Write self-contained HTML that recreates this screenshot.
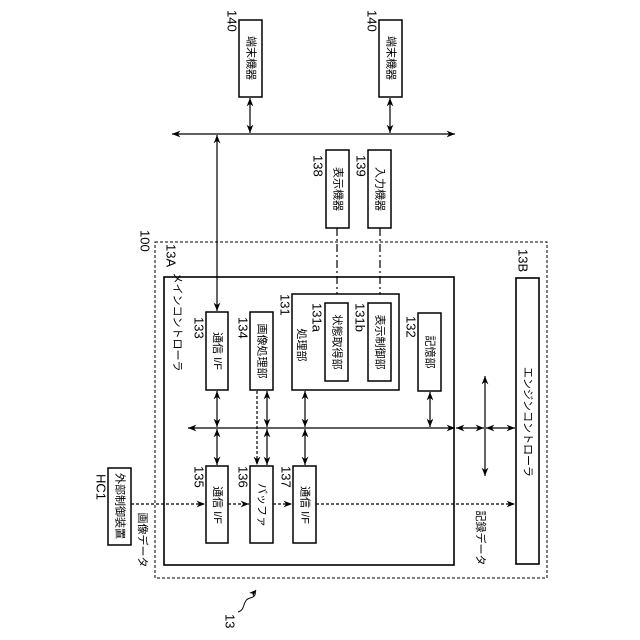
<!DOCTYPE html>
<html><head><meta charset="utf-8"><style>
html,body{margin:0;padding:0;background:#fff}
svg{display:block}
text{font-family:"Liberation Sans","Noto Sans CJK JP",sans-serif;fill:#000}
</style></head><body>
<svg width="640" height="640" viewBox="0 0 640 640" xmlns="http://www.w3.org/2000/svg">
<defs>
<marker id="a" viewBox="0 0 10 10" refX="10" refY="5" markerWidth="7" markerHeight="7" orient="auto-start-reverse"><path d="M0,1 L10,5 L0,9 L3,5 z" fill="#000"/></marker>
</defs>
<g fill="none" stroke="#000" stroke-width="1.2">
<rect x="155" y="242" width="392" height="336" stroke-dasharray="3,2" stroke-width="1"/>
<rect x="164" y="277" width="290" height="288" stroke-width="1.6"/>
<rect x="516" y="278" width="23" height="286" stroke-width="1.6"/>
<rect x="206" y="312" width="22" height="78" stroke-width="1.5"/>
<rect x="250" y="312" width="23" height="78" stroke-width="1.5"/>
<rect x="292" y="294" width="107" height="96" stroke-width="1.5"/>
<rect x="325" y="303" width="23" height="78" stroke-width="1.5"/>
<rect x="368" y="303" width="23" height="78" stroke-width="1.5"/>
<rect x="418" y="313" width="23" height="78" stroke-width="1.5"/>
<rect x="206" y="466" width="22" height="77" stroke-width="1.5"/>
<rect x="250" y="466" width="23" height="77" stroke-width="1.5"/>
<rect x="293" y="466" width="23" height="77" stroke-width="1.5"/>
<rect x="108" y="468" width="23" height="77" stroke-width="1.5"/>
<rect x="326" y="150" width="23" height="78" stroke-width="1.5"/>
<rect x="368" y="150" width="23" height="78" stroke-width="1.5"/>
<rect x="239" y="20" width="23" height="77" stroke-width="1.5"/>
<rect x="379" y="20" width="23" height="77" stroke-width="1.5"/>
<line x1="172" y1="134" x2="455" y2="134" marker-start="url(#a)" marker-end="url(#a)"/>
<line x1="250" y1="98" x2="250" y2="133" marker-start="url(#a)" marker-end="url(#a)"/>
<line x1="390" y1="98" x2="390" y2="133" marker-start="url(#a)" marker-end="url(#a)"/>
<line x1="217" y1="135" x2="217" y2="311" marker-start="url(#a)" marker-end="url(#a)"/>
<line x1="337" y1="228" x2="337" y2="294" stroke-dasharray="8,3,2,3"/>
<line x1="380" y1="228" x2="380" y2="294" stroke-dasharray="8,3,2,3"/>
<line x1="188" y1="428" x2="455" y2="428" marker-start="url(#a)" marker-end="url(#a)"/>
<line x1="217" y1="391" x2="217" y2="427" marker-start="url(#a)" marker-end="url(#a)"/>
<line x1="217" y1="429" x2="217" y2="465" marker-start="url(#a)" marker-end="url(#a)"/>
<line x1="267" y1="391" x2="267" y2="427" marker-start="url(#a)" marker-end="url(#a)"/>
<line x1="267" y1="429" x2="267" y2="465" marker-start="url(#a)" marker-end="url(#a)"/>
<line x1="305" y1="391" x2="305" y2="427" marker-start="url(#a)" marker-end="url(#a)"/>
<line x1="305" y1="429" x2="305" y2="465" marker-start="url(#a)" marker-end="url(#a)"/>
<line x1="430" y1="392" x2="430" y2="427" marker-start="url(#a)" marker-end="url(#a)"/>
<line x1="257" y1="391" x2="257" y2="465" stroke-dasharray="3,2" marker-end="url(#a)"/>
<line x1="456" y1="428" x2="484" y2="428" marker-start="url(#a)" marker-end="url(#a)"/>
<line x1="486" y1="428" x2="515" y2="428" marker-start="url(#a)" marker-end="url(#a)"/>
<line x1="485" y1="376" x2="485" y2="476" marker-start="url(#a)" marker-end="url(#a)"/>
<line x1="131" y1="504" x2="205" y2="504" stroke-dasharray="3,2" marker-end="url(#a)"/>
<line x1="228" y1="504" x2="249" y2="504" stroke-dasharray="3,2" marker-end="url(#a)"/>
<line x1="273" y1="504" x2="292" y2="504" stroke-dasharray="3,2" marker-end="url(#a)"/>
<line x1="316" y1="504" x2="515" y2="504" stroke-dasharray="3,2" marker-end="url(#a)"/>
<path d="M238,612 C246,610 242,600 250,598 S254,592 256,590" stroke-width="1" marker-end="url(#a)"/>
</g>
<g font-size="11" text-anchor="middle" dominant-baseline="central">
<text transform="translate(217,351) rotate(90)">通信 I/F</text>
<text transform="translate(261.5,351) rotate(90)">画像処理部</text>
<text transform="translate(336.5,342) rotate(90)">状態取得部</text>
<text transform="translate(379.5,342) rotate(90)">表示制御部</text>
<text transform="translate(429.5,352) rotate(90)">記憶部</text>
<text transform="translate(217,505) rotate(90)">通信 I/F</text>
<text transform="translate(261.5,505) rotate(90)">バッファ</text>
<text transform="translate(304.5,505) rotate(90)">通信 I/F</text>
<text transform="translate(119.5,506) rotate(90)">外部制御装置</text>
<text transform="translate(337.5,189) rotate(90)">表示機器</text>
<text transform="translate(379.5,189) rotate(90)">入力機器</text>
<text transform="translate(250.5,58) rotate(90)">端末機器</text>
<text transform="translate(390.5,58) rotate(90)">端末機器</text>
<text transform="translate(527.5,422) rotate(90)">エンジンコントローラ</text>
<text transform="translate(301,345) rotate(90)">処理部</text>
<text transform="translate(177,322) rotate(90)">メインコントローラ</text>
<text transform="translate(142,540) rotate(90)">画像データ</text>
<text transform="translate(480,538) rotate(90)">記録データ</text>
</g>
<g font-size="13" dominant-baseline="central" text-anchor="start">
<text transform="translate(199,317) rotate(90)">133</text>
<text transform="translate(243,317) rotate(90)">134</text>
<text transform="translate(285,294) rotate(90)">131</text>
<text transform="translate(317,303) rotate(90)">131a</text>
<text transform="translate(360,303) rotate(90)">131b</text>
<text transform="translate(411,316) rotate(90)">132</text>
<text transform="translate(199,466) rotate(90)">135</text>
<text transform="translate(243,466) rotate(90)">136</text>
<text transform="translate(286,466) rotate(90)">137</text>
<text transform="translate(101,474) rotate(90)">HC1</text>
<text transform="translate(318,155) rotate(90)">138</text>
<text transform="translate(361,155) rotate(90)">139</text>
<text transform="translate(232,10) rotate(90)">140</text>
<text transform="translate(372,10) rotate(90)">140</text>
<text transform="translate(171,244) rotate(90)">13A</text>
<text transform="translate(145,230) rotate(90)">100</text>
<text transform="translate(523,249) rotate(90)">13B</text>
<text transform="translate(230,614) rotate(90)">13</text>
</g>
</svg>
</body></html>
